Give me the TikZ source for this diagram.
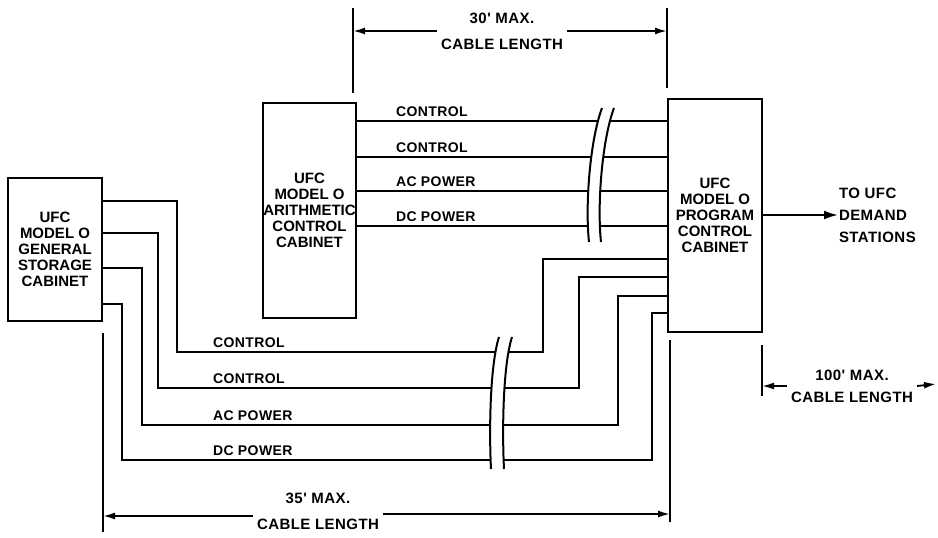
\documentclass[tikz,border=0pt]{standalone}
\usepackage{fontspec}
\setmainfont{Liberation Sans}
\newfontfamily\lettering[LetterSpace=3]{Liberation Sans}
\usetikzlibrary{positioning, arrows.meta}

\begin{document}
\begin{tikzpicture}[
    x=1pt, y=-1pt,
    line width=2pt,
    cabinet/.style={
        draw,
        align=center,
        font=\bfseries\fontsize{15}{16}\selectfont,
        inner sep=0pt,
        minimum width=94pt
    },
    cable/.style={line width=2pt},
    cablename/.style={font=\lettering\bfseries\fontsize{14}{14}\selectfont, anchor=base west, inner sep=0pt},
    arrow/.style={-{Latex[length=14pt,width=9pt]}, line width=2pt},
    dimarrow/.style={-{Latex[length=12pt,width=7pt]}, line width=1.8pt},
    dimtext/.style={align=center, inner sep=3pt, font=\lettering\bfseries\fontsize{15}{26}\selectfont},
    desttext/.style={align=left, inner sep=0pt, font=\lettering\bfseries\fontsize{15}{22}\selectfont}
]
\useasboundingbox (0,0) rectangle (938,538);

% cabinets
\node[cabinet, minimum height=143pt] (storage) at (55,249.5) {UFC\\MODEL O\\GENERAL\\STORAGE\\CABINET};
\node[cabinet, minimum width=93pt, minimum height=215pt] (arithmetic) at (309.5,210.5) {UFC\\MODEL O\\ARITHMETIC\\CONTROL\\CABINET};
\node[cabinet, minimum height=233pt] (program) at (715,215.5) {UFC\\MODEL O\\PROGRAM\\CONTROL\\CABINET};

% cables, arithmetic to program
\foreach \y/\name in {121/CONTROL, 157/CONTROL, 191/AC POWER, 226/DC POWER}{
    \draw[cable] (arithmetic.east |- 0,\y) -- (program.west |- 0,\y);
    \node[cablename] at (395,\y-5) {\name};
}

% cables, storage to program
\foreach \y/\xa/\yb/\xb/\yc/\name in {201/177/352/543/259/CONTROL, 233/158/388/579/277/CONTROL, 268/142/425/618/296/AC POWER, 304/122/460/652/313/DC POWER}{
    \draw[cable] (storage.east |- 0,\y) -| (\xa,\yb) -| (\xb,\yc) -- (program.west |- 0,\yc);
    \node[cablename] at (212,\yb-5) {\name};
}

% breaks
\fill[white] (602,108) .. controls (590,140) and (585,205) .. (589,242) -- (601,242) .. controls (597,205) and (602,140) .. (614,108) -- cycle;
\draw (602,108) .. controls (590,140) and (585,205) .. (589,242);
\draw (614,108) .. controls (602,140) and (597,205) .. (601,242);
\fill[white] (499,337) .. controls (490,365) and (489,430) .. (491,469) -- (504,469) .. controls (502,430) and (503,365) .. (512,337) -- cycle;
\draw (499,337) .. controls (490,365) and (489,430) .. (491,469);
\draw (512,337) .. controls (503,365) and (502,430) .. (504,469);

% to demand stations
\node[desttext, anchor=west] (stations) at (838,215) {TO UFC\\DEMAND\\STATIONS};
\draw[arrow] (program.east |- stations) -- (stations.west);

% 30' dimension
\coordinate (topleft) at (353,8);
\coordinate (topright) at (667,8);
\draw (topleft) -- (353,93);
\draw (topright) -- (667,88);
\node[dimtext] (len30) at (502,31) {30' MAX.\\CABLE LENGTH};
\draw[dimarrow] (len30.west) -- (len30.west -| topleft);
\draw[dimarrow] (len30.east) -- (len30.east -| topright);

% 35' dimension
\coordinate (lowleft) at (103,333);
\coordinate (lowright) at (670,340);
\draw (lowleft) -- (103,532);
\draw (lowright) -- (670,522);
\node[dimtext] (len35) at (318,511) {35' MAX.\\CABLE LENGTH};
\draw[dimarrow] ([yshift=-5pt]len35.west) -- ([yshift=-5pt]len35.west -| lowleft);
\draw[dimarrow] ([yshift=-3pt]len35.east) -- ([yshift=-3pt]len35.east -| lowright);

% 100' dimension
\coordinate (sideleft) at (762,345);
\coordinate (sideright) at (936,384);
\draw (sideleft) -- (762,396);
\node[dimtext, font=\lettering\bfseries\fontsize{15}{22}\selectfont] (len100) at (852,386) {100' MAX.\\CABLE LENGTH};
\draw[dimarrow] (len100.west) -- (len100.west -| sideleft);
\draw[dimarrow] (len100.east) -- (sideright);
\end{tikzpicture}
\end{document}
